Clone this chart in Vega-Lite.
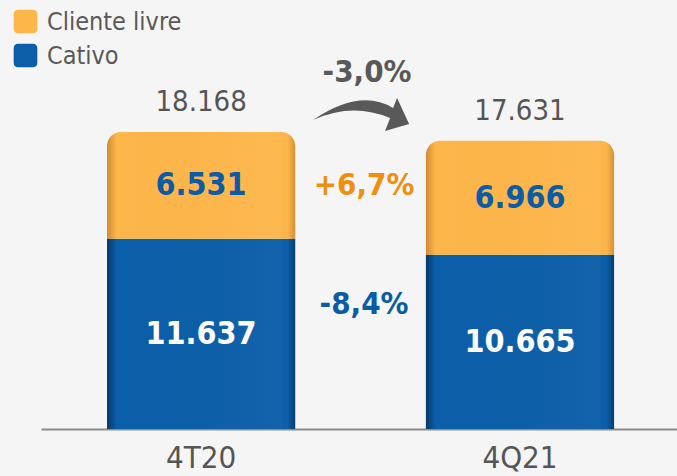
{
  "$schema": "https://vega.github.io/schema/vega-lite/v6.json",
  "width": 636,
  "height": 429,
  "autosize": {"type": "none"},
  "padding": {"left": 41, "top": 0, "right": 0, "bottom": 47},
  "background": "#f5f5f5",
  "config": {
    "view": {"stroke": null},
    "font": "DejaVu Sans Condensed",
    "locale": {"number": {"decimal": ",", "thousands": ".", "grouping": [3], "currency": ["R$ ", ""]}}
  },
  "datasets": {
    "mercado": [
      {"trimestre": "4T20", "serie": "Cativo", "valor": 11637},
      {"trimestre": "4T20", "serie": "Cliente livre", "valor": 6531},
      {"trimestre": "4Q21", "serie": "Cativo", "valor": 10665},
      {"trimestre": "4Q21", "serie": "Cliente livre", "valor": 6966}
    ],
    "variacoes": [
      {"tipo": "total", "texto": "-3,0%", "nivel": 19390},
      {"tipo": "Cliente livre", "texto": "+6,7%", "nivel": 14860},
      {"tipo": "Cativo", "texto": "-8,4%", "nivel": 7580}
    ]
  },
  "data": {"name": "mercado"},
  "layer": [
    {
      "transform": [
        {"stack": "valor", "groupby": ["trimestre"], "sort": [{"field": "serie", "order": "ascending"}], "as": ["y0", "y1"]},
        {"filter": "datum.serie === 'Cativo'"}
      ],
      "mark": {"type": "bar"},
      "encoding": {
        "x": {"field": "trimestre", "type": "nominal", "sort": ["4T20", "4Q21"],
          "scale": {"domain": ["4T20", "4Q21"], "paddingInner": 0.41, "paddingOuter": 0.2022, "align": 0.512},
          "axis": {"title": null, "labelAngle": 0, "ticks": false, "domainColor": "#8c8c8c", "domainWidth": 2, "labelFontSize": 31, "labelColor": "#555555", "labelPadding": 14, "grid": false}},
        "y": {"field": "y1", "type": "quantitative", "scale": {"domain": [0, 26240]}, "axis": null},
        "y2": {"field": "y0"},
        "color": {"field": "serie", "type": "nominal",
          "scale": {"domain": ["Cliente livre", "Cativo"], "range": ["#FDB64A", "#0B5EA8"]},
          "legend": {"orient": "none", "legendX": -28, "legendY": 9, "title": null,
            "symbolType": "M-1,-0.6 Q-1,-1 -0.6,-1 L0.6,-1 Q1,-1 1,-0.6 L1,0.6 Q1,1 0.6,1 L-0.6,1 Q-1,1 -1,0.6 Z",
            "symbolSize": 560, "symbolStrokeWidth": 0, "symbolOpacity": 1,
            "labelFontSize": 25, "labelColor": "#595959", "labelFont": "DejaVu Sans Condensed",
            "rowPadding": 8, "labelOffset": 9}}
      }
    },
    {
      "transform": [
        {"stack": "valor", "groupby": ["trimestre"], "sort": [{"field": "serie", "order": "ascending"}], "as": ["y0", "y1"]},
        {"filter": "datum.serie === 'Cliente livre'"}
      ],
      "mark": {"type": "bar", "cornerRadiusTopLeft": 14, "cornerRadiusTopRight": 14},
      "encoding": {
        "x": {"field": "trimestre", "type": "nominal", "sort": ["4T20", "4Q21"]},
        "y": {"field": "y1", "type": "quantitative", "scale": {"domain": [0, 26240]}, "axis": null},
        "y2": {"field": "y0"},
        "color": {"field": "serie", "type": "nominal"}
      }
    },
    {
      "transform": [
        {"stack": "valor", "groupby": ["trimestre"], "sort": [{"field": "serie", "order": "ascending"}], "as": ["y0", "y1"]},
        {"filter": "datum.serie === 'Cativo'"}
      ],
      "mark": {"type": "bar",
        "fill": {"gradient": "linear", "x1": 0, "x2": 1, "y1": 0, "y2": 0,
          "stops": [
            {"offset": 0, "color": "rgba(0,0,0,0.4)"},
            {"offset": 0.05, "color": "rgba(0,0,0,0)"},
            {"offset": 0.92, "color": "rgba(255,255,255,0.03)"},
            {"offset": 0.96, "color": "rgba(0,0,0,0)"},
            {"offset": 1, "color": "rgba(0,0,0,0.35)"}
          ]}},
      "encoding": {
        "x": {"field": "trimestre", "type": "nominal", "sort": ["4T20", "4Q21"]},
        "y": {"field": "y1", "type": "quantitative", "scale": {"domain": [0, 26240]}, "axis": null},
        "y2": {"field": "y0"}
      }
    },
    {
      "transform": [
        {"stack": "valor", "groupby": ["trimestre"], "sort": [{"field": "serie", "order": "ascending"}], "as": ["y0", "y1"]},
        {"filter": "datum.serie === 'Cliente livre'"}
      ],
      "mark": {"type": "bar", "cornerRadiusTopLeft": 14, "cornerRadiusTopRight": 14,
        "fill": {"gradient": "linear", "x1": 0, "x2": 1, "y1": 0, "y2": 0,
          "stops": [
            {"offset": 0, "color": "rgba(120,60,0,0.35)"},
            {"offset": 0.05, "color": "rgba(120,60,0,0)"},
            {"offset": 0.92, "color": "rgba(255,255,255,0.04)"},
            {"offset": 0.96, "color": "rgba(120,60,0,0)"},
            {"offset": 1, "color": "rgba(120,60,0,0.3)"}
          ]}},
      "encoding": {
        "x": {"field": "trimestre", "type": "nominal", "sort": ["4T20", "4Q21"]},
        "y": {"field": "y1", "type": "quantitative", "scale": {"domain": [0, 26240]}, "axis": null},
        "y2": {"field": "y0"}
      }
    },
    {
      "mark": {"type": "text", "fontWeight": "bold", "fontSize": 32, "baseline": "middle", "align": "center"},
      "encoding": {
        "x": {"field": "trimestre", "type": "nominal", "sort": ["4T20", "4Q21"]},
        "y": {"field": "valor", "type": "quantitative", "stack": "zero", "bandPosition": 0.5, "scale": {"domain": [0, 26240]}, "axis": null},
        "order": {"field": "serie", "sort": "ascending"},
        "detail": {"field": "serie"},
        "text": {"field": "valor", "type": "quantitative", "format": ",d"},
        "color": {"condition": {"test": "datum.serie === 'Cativo'", "value": "#ffffff"}, "value": "#0B5BA5"}
      }
    },
    {
      "transform": [
        {"aggregate": [{"op": "sum", "field": "valor", "as": "total"}], "groupby": ["trimestre"]}
      ],
      "mark": {"type": "text", "fontSize": 29, "baseline": "alphabetic", "align": "center", "dy": -21, "color": "#555555"},
      "encoding": {
        "x": {"field": "trimestre", "type": "nominal", "sort": ["4T20", "4Q21"]},
        "y": {"field": "total", "type": "quantitative", "scale": {"domain": [0, 26240]}, "axis": null},
        "text": {"field": "total", "type": "quantitative", "format": ",d"}
      }
    },
    {
      "data": {"name": "variacoes"},
      "transform": [{"filter": "datum.tipo !== 'total'"}],
      "mark": {"type": "text", "fontWeight": "bold", "fontSize": 31, "baseline": "middle", "align": "center", "dx": 4},
      "encoding": {
        "x": {"datum": "4T20", "bandPosition": 1.345},
        "y": {"field": "nivel", "type": "quantitative", "scale": {"domain": [0, 26240]}, "axis": null},
        "text": {"field": "texto"},
        "color": {"condition": {"test": "datum.tipo === 'Cliente livre'", "value": "#EE8F0F"}, "value": "#0B5BA5"}
      }
    },
    {
      "data": {"name": "variacoes"},
      "transform": [{"filter": "datum.tipo === 'total'"}],
      "mark": {"type": "text", "fontWeight": "bold", "fontSize": 31, "baseline": "middle", "align": "center", "dx": 7, "dy": -39, "color": "#595959"},
      "encoding": {
        "x": {"datum": "4T20", "bandPosition": 1.345},
        "y": {"field": "nivel", "type": "quantitative", "scale": {"domain": [0, 26240]}, "axis": null},
        "text": {"field": "texto"}
      }
    },
    {
      "data": {"name": "variacoes"},
      "transform": [{"filter": "datum.tipo === 'total'"}],
      "mark": {"type": "point", "filled": true, "opacity": 1, "strokeWidth": 0, "color": "#595959",
        "shape": "M-0.94,0.16 Q0,-0.48 0.66,-0.08 L0.74,-0.28 L0.98,0.24 L0.5,0.38 L0.6,0.12 Q-0.16,-0.2 -0.94,0.16 Z",
        "size": 10000},
      "encoding": {
        "x": {"datum": "4T20", "bandPosition": 1.345},
        "y": {"field": "nivel", "type": "quantitative", "scale": {"domain": [0, 26240]}, "axis": null}
      }
    }
  ]
}
